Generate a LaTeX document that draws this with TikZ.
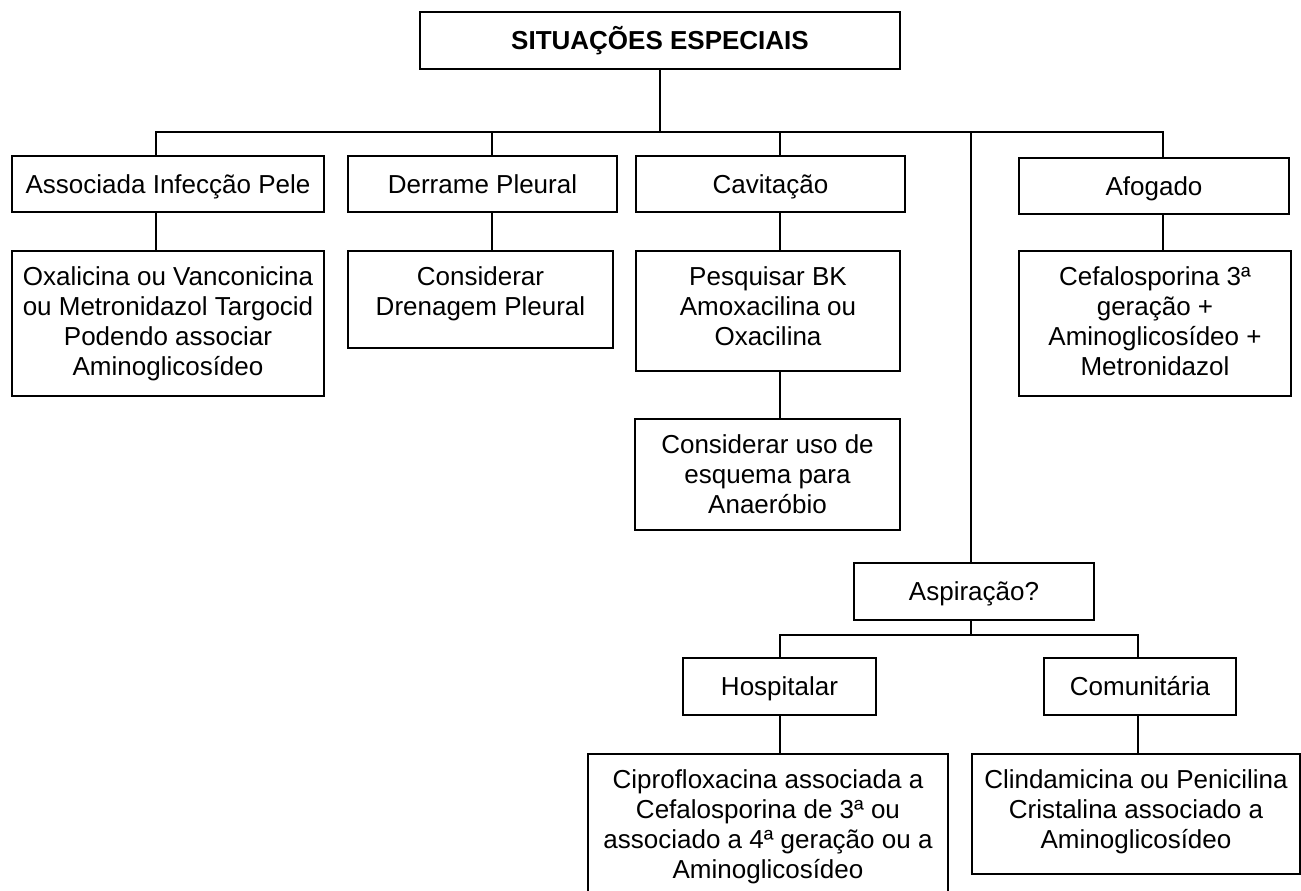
\documentclass[tikz,border=0pt]{standalone}
\usepackage{fontspec}
\setmainfont{Liberation Sans}
\newcommand\firstline{\rule{0pt}{26pt}}
\begin{document}
\begin{tikzpicture}[x=1pt,y=-1pt,
  box/.style={draw, line width=2pt, inner sep=0pt, text height=24pt, text depth=5.4pt,
              font=\fontsize{26}{30}\selectfont},
  txt/.style={anchor=north, inner sep=0pt, align=center,
              font=\fontsize{26}{30}\selectfont},
  link/.style={line width=2pt}]
\useasboundingbox (0,0) rectangle (1301,891);

% title
\node[box, minimum width=480pt, minimum height=57pt] (title) at (660,40.5) {\textbf{SITUAÇÕES ESPECIAIS}};

% first row
\node[box, minimum width=312pt, minimum height=56pt] (a1) at (168,184) {Associada Infecção Pele};
\node[box, minimum width=269pt, minimum height=56pt] (a2) at (482.5,184) {Derrame Pleural};
\node[box, minimum width=269pt, minimum height=56pt] (a3) at (770.5,184) {Cavitação};
\node[box, minimum width=270pt, minimum height=56pt] (a4) at (1154,186) {Afogado};

% second row
\node[box, minimum width=312pt, minimum height=145pt] (b1) at (168,323.5) {};
\node[txt] (b1t) at ([yshift=-9.5pt]b1.north) {\firstline Oxalicina ou Vanconicina\\ou Metronidazol Targocid\\Podendo associar\\Aminoglicosídeo};
\node[box, minimum width=265pt, minimum height=97pt] (b2) at (480.5,299.5) {};
\node[txt] (b2t) at ([yshift=-9.5pt]b2.north) {\firstline Considerar\\Drenagem Pleural};
\node[box, minimum width=264pt, minimum height=120pt] (b3) at (768,311) {};
\node[txt] (b3t) at ([yshift=-9.5pt]b3.north) {\firstline Pesquisar BK\\Amoxacilina ou\\Oxacilina};
\node[box, minimum width=272pt, minimum height=145pt] (b4) at (1155,323.5) {};
\node[txt] (b4t) at ([yshift=-9.5pt]b4.north) {\firstline Cefalosporina 3ª\\geração +\\Aminoglicosídeo +\\Metronidazol};

% third row under Cavitação
\node[box, minimum width=265pt, minimum height=111pt] (c3) at (767.5,474.5) {};
\node[txt] (c3t) at ([yshift=-9.5pt]c3.north) {\firstline Considerar uso de\\esquema para\\Anaeróbio};

% aspiration branch
\node[box, minimum width=240pt, minimum height=57pt] (asp) at (974,591.5) {Aspiração?};
\node[box, minimum width=193pt, minimum height=57pt] (hosp) at (779.5,686.5) {Hospitalar};
\node[box, minimum width=192pt, minimum height=57pt] (com) at (1140,686.5) {Comunitária};
\node[box, minimum width=360pt, minimum height=151pt] (cipro) at (768,829.5) {};
\node[txt] (ciprot) at ([yshift=-9.5pt]cipro.north) {\firstline Ciprofloxacina associada a\\Cefalosporina de 3ª ou\\associado a 4ª geração ou a\\Aminoglicosídeo};
\node[box, minimum width=328pt, minimum height=120pt] (clinda) at (1136,814) {};
\node[txt] (clindat) at ([yshift=-9.5pt]clinda.north) {\firstline Clindamicina ou Penicilina\\Cristalina associado a\\Aminoglicosídeo};

% main branching bar
\coordinate (j1) at (156,132);
\coordinate (j2) at (492,132);
\coordinate (j3) at (780,132);
\coordinate (j5) at (971,132);
\coordinate (j4) at (1163,132);
\draw[link] (title.south) -- (title.south |- j1);
\draw[link] (j1 |- a1.north) -- (j1) -- (j4) -- (j4 |- a4.north);
\draw[link] (j2) -- (j2 |- a2.north);
\draw[link] (j3) -- (j3 |- a3.north);
\draw[link] (j5) -- (j5 |- asp.north);

% first row to second row
\draw[link] (j1 |- a1.south) -- (j1 |- b1.north);
\draw[link] (j2 |- a2.south) -- (j2 |- b2.north);
\draw[link] (j3 |- a3.south) -- (j3 |- b3.north);
\draw[link] (j4 |- a4.south) -- (j4 |- b4.north);
\draw[link] (j3 |- b3.south) -- (j3 |- c3.north);

% aspiration sub-bar
\coordinate (s0) at (971,635);
\coordinate (s1) at (780,635);
\coordinate (s2) at (1138,635);
\draw[link] (s0 |- asp.south) -- (s0);
\draw[link] (s1 |- hosp.north) -- (s1) -- (s2) -- (s2 |- com.north);
\draw[link] (s1 |- hosp.south) -- (s1 |- cipro.north);
\draw[link] (s2 |- com.south) -- (s2 |- clinda.north);
\end{tikzpicture}
\end{document}
